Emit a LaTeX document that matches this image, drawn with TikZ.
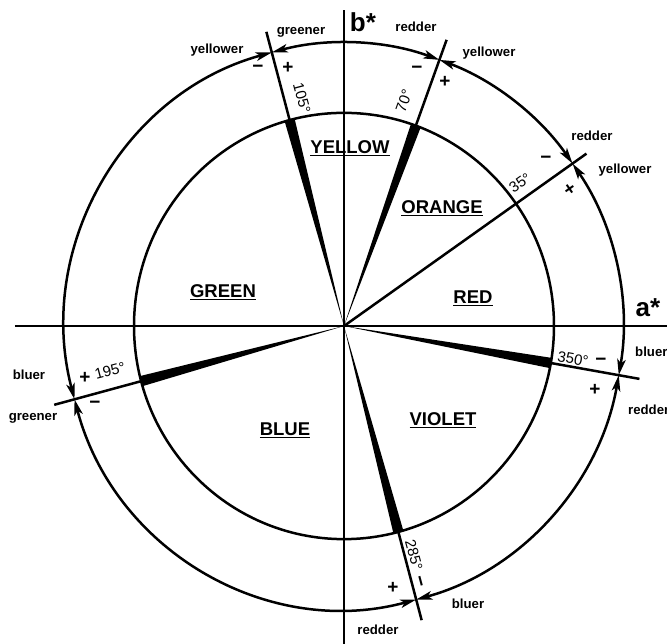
\documentclass[tikz,border=0pt]{standalone}
\usepackage{fontspec}
\setmainfont{Liberation Sans}
\usetikzlibrary{arrows.meta}
\begin{document}
\begin{tikzpicture}[x=1pt,y=1pt,
  ln/.style={line width=2.5pt},
  arr/.style={line width=2.5pt, {Stealth[length=16pt,width=8.5pt,inset=4pt]}-{Stealth[length=16pt,width=8.5pt,inset=4pt]}},
  small/.style={font=\bfseries\fontsize{13.2}{14}\selectfont, inner sep=0pt},
  sign/.style={font=\bfseries\fontsize{19}{19}\selectfont, inner sep=0pt},
  deg/.style={font=\fontsize{15}{15}\selectfont, inner sep=0pt},
  region/.style={font=\bfseries\fontsize{18.5}{19}\selectfont, inner sep=0pt},
  axlab/.style={font=\bfseries\fontsize{26}{26}\selectfont, inner sep=0pt}]
\useasboundingbox (-344,-318) rectangle (323,326);
\coordinate (O) at (0,0);
% axes
\coordinate (xl) at (-329,0);
\coordinate (xr) at (323,0);
\coordinate (yt) at (0,316);
\coordinate (yb) at (0,-318);
\draw[ln] (xl) -- (xr);
\draw[ln] (yb) -- (yt);
\begin{scope}[yscale=1.015]
  \draw[ln] (O) circle[radius=210];
  \foreach \a in {70,105,195,285,350} {
    \fill (O) -- (\a-1.4:210) arc[start angle=\a-1.4, end angle=\a+1.4, radius=210] -- cycle;
    \coordinate (in\a) at (\a:210);
    \coordinate (out\a) at (\a:300);
    \draw[ln] (in\a) -- (out\a);
  }
  \coordinate (out35) at (35:296);
  \draw[ln] (O) -- (out35);
  % outer circle as double-headed arcs
  \draw[arr] (35:279) arc[start angle=35, end angle=70, radius=279];
  \draw[arr] (70:279) arc[start angle=70, end angle=105, radius=279];
  \draw[arr] (105:279) arc[start angle=105, end angle=195, radius=279];
  \draw[arr] (195:279) arc[start angle=195, end angle=285, radius=279];
  \draw[arr] (285:279) arc[start angle=285, end angle=350, radius=279];
  \draw[arr] (350:279) arc[start angle=350, end angle=395, radius=279];
\end{scope}
% axis labels
\node[axlab] (bstar) at (19,304) {b*};
\node[axlab] (astar) at (304,18) {a*};
% region labels
\node[region] (yel) at (6,178) {\underline{YELLOW}};
\node[region] (ora) at (98,118) {\underline{ORANGE}};
\node[region] (gre) at (-121,34) {\underline{GREEN}};
\node[region] (red) at (129,28) {\underline{RED}};
\node[region] (blu) at (-59,-104) {\underline{BLUE}};
\node[region] (vio) at (99,-94) {\underline{VIOLET}};
% direction labels
\node[small] (l1) at (-127,276) {yellower};
\node[small] (l2) at (-43,294) {greener};
\node[small] (l3) at (72,299) {redder};
\node[small] (l4) at (145,273) {yellower};
\node[small] (l5) at (248,190) {redder};
\node[small] (l6) at (281,156) {yellower};
\node[small,anchor=west] (l7) at (291,-26) {bluer};
\node[small,anchor=west] (l8) at (284,-84) {redder};
\node[small] (l9) at (124,-278) {bluer};
\node[small] (l10) at (34,-304) {redder};
\node[small] (l11) at (-315,-49) {bluer};
\node[small] (l12) at (-311,-92) {greener};
% signs
\node[sign] (s1) at (-86,257) {−};
\node[sign] (s2) at (-56,258) {+};
\node[sign] (s3) at (73,256) {−};
\node[sign] (s4) at (101,244) {+};
\node[sign] (s5) at (202,166) {−};
\node[sign,rotate=35] (s6) at (226,136) {+};
\node[sign] (s7) at (257,-36) {−};
\node[sign] (s8) at (251,-64) {+};
\node[sign] (s9) at (49,-262) {+};
\node[sign,rotate=-75] (s10) at (74,-256) {−};
\node[sign] (s11) at (-259,-52) {+};
\node[sign] (s12) at (-249,-79) {−};
% degree labels
\node[deg,rotate=-75] (d105) at (-42,228) {105°};
\node[deg,rotate=70] (d70) at (60,225) {70°};
\node[deg,rotate=35] (d35) at (176,143) {35°};
\node[deg,rotate=-10] (d350) at (229,-33) {350°};
\node[deg,rotate=-75] (d285) at (70,-229) {285°};
\node[deg,rotate=15] (d195) at (-234,-45) {195°};
\end{tikzpicture}
\end{document}
